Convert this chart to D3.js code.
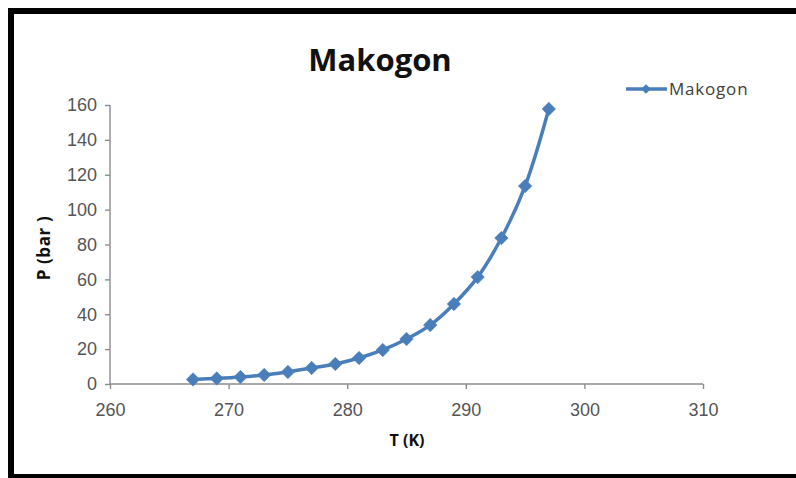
<!DOCTYPE html>
<html><head><meta charset="utf-8">
<script src="https://cdn.jsdelivr.net/npm/d3@7"></script>
<style>
html,body{margin:0;padding:0;background:#fff;}
svg{display:block;font-family:"Open Sans","Liberation Sans",sans-serif;}
</style></head>
<body>
<svg id="c" width="796" height="478"></svg>
<script>
const temps = [267,269,271,273,275,277,279,281,283,285,287,289,291,293,295,297];
const pressures = [2.6,3.2,4.0,5.2,6.9,9.2,11.5,14.9,19.5,25.8,33.8,45.9,61.3,83.7,113.5,157.7];
const xTicks = [260,270,280,290,300,310];
const yTicks = [0,20,40,60,80,100,120,140,160];
const seriesName = "Makogon";
const title = "Makogon";
const xLabel = "T (K)";
const yLabel = "P (bar )";

const svg = d3.select("#c");
const color = "#4a7ebb";
const axisColor = "#8c8c8c";
const tickText = "#555555";

// outer frame
svg.append("rect").attr("x",11).attr("y",11).attr("width",800).attr("height",466)
  .attr("fill","none").attr("stroke","#000").attr("stroke-width",6);

const x = d3.scaleLinear().domain([260,310]).range([110,703]);
const y = d3.scaleLinear().domain([0,160]).range([384,105]);

// y axis
const ya = svg.append("g").attr("transform","translate(110,0)")
  .call(d3.axisLeft(y).tickValues(yTicks).tickSize(5).tickPadding(6));
ya.select(".domain").attr("stroke",axisColor).attr("stroke-width",1.4).attr("d","M0,105V384");
ya.selectAll(".tick line").attr("stroke",axisColor).attr("stroke-width",1.4);
ya.selectAll(".tick text").attr("fill",tickText).style("font-size","18px").attr("x",-13);

// x axis
const xa = svg.append("g").attr("transform","translate(0,384)")
  .call(d3.axisBottom(x).tickValues(xTicks).tickSize(5).tickPadding(14));
xa.select(".domain").attr("stroke",axisColor).attr("stroke-width",1.4).attr("d","M110,0H703");
xa.selectAll(".tick line").attr("stroke",axisColor).attr("stroke-width",1.4);
xa.selectAll(".tick text").attr("fill",tickText).style("font-size","18px");

// title
svg.append("text").attr("x",380).attr("y",71).attr("text-anchor","middle")
  .style("font-size","31px").style("font-weight","bold").attr("fill","#111").text(title);

// axis labels
svg.append("text").attr("x",407).attr("y",446).attr("text-anchor","middle")
  .style("font-size","16px").style("font-weight","bold").attr("fill","#111").text(xLabel);
svg.append("text").attr("transform","translate(50,248) rotate(-90)").attr("text-anchor","middle")
  .style("font-size","17px").style("font-weight","bold").style("letter-spacing","0.6px")
  .attr("fill","#111").text(yLabel);

// line
const data = temps.map((t,i)=>({t,p:pressures[i]}));
const line = d3.line().x(d=>x(d.t)).y(d=>y(d.p)).curve(d3.curveCatmullRom.alpha(0.5));
svg.append("path").datum(data).attr("d",line).attr("fill","none")
  .attr("stroke",color).attr("stroke-width",3.5).attr("stroke-linejoin","round");

const dType = d3.symbolDiamond2 || d3.symbolDiamond;
const diamond = d3.symbol().type(dType).size(115);
svg.append("g").selectAll("path").data(data).join("path")
  .attr("transform",d=>`translate(${x(d.t)},${y(d.p)})`)
  .attr("d",diamond).attr("fill",color).attr("stroke",color).attr("stroke-width",0.6);

// legend
const lg = svg.append("g");
lg.append("line").attr("x1",626).attr("x2",667).attr("y1",89).attr("y2",89)
  .attr("stroke",color).attr("stroke-width",3.5);
lg.append("path").attr("transform","translate(646,89)").attr("d",d3.symbol().type(dType).size(60))
  .attr("fill",color);
lg.append("text").attr("x",669).attr("y",95).style("font-size","17px").style("letter-spacing","0.8px")
  .attr("fill","#404040").text(seriesName);
</script>
</body></html>
